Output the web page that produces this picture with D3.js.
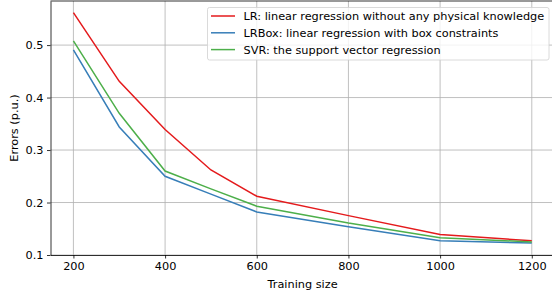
<!DOCTYPE html>
<html>
<head>
<meta charset="utf-8">
<script src="https://cdn.jsdelivr.net/npm/d3@7"></script>
<style>
	body { margin: 0; background: #fff; }
	text { font-family: "DejaVu Sans", sans-serif; fill: #000; }
</style>
</head>
<body>
<div id="graph"></div>
<script>
const sizes = [200, 300, 400, 500, 600, 800, 1000, 1200];
const lr = [0.562, 0.431, 0.339, 0.262, 0.212, 0.175, 0.139, 0.127];
const lrbox = [0.491, 0.344, 0.250, 0.216, 0.182, 0.154, 0.127, 0.123];
const svr = [0.508, 0.370, 0.260, 0.226, 0.193, 0.161, 0.133, 0.125];
const seriesNames = ['LR: linear regression without any physical knowledge',
	'LRBox: linear regression with box constraints',
	'SVR: the support vector regression'];
const xTicks = [200, 400, 600, 800, 1000, 1200];
const yTicks = [0.1, 0.2, 0.3, 0.4, 0.5];

const w = 552;
const h = 297;
const padding_left = 50.5;
const padding_top = 1;
const padding_bottom = 42;
const colors = ['#e41a1c', '#377eb8', '#4daf4a'];
const fs = '11.3px';

const svg = d3.select('#graph')
	.append('svg')
	.attr('width', w)
	.attr('height', h);

const xScale = d3.scaleLinear()
	.domain([150, 1250])
	.range([padding_left, 554.7]);
const yScale = d3.scaleLinear()
	.domain([0.1, 0.584])
	.range([h - padding_bottom, padding_top]);

// grid
svg.append('g')
	.selectAll('line')
	.data(xTicks)
	.enter()
	.append('line')
	.attr('x1', d => xScale(d)).attr('x2', d => xScale(d))
	.attr('y1', yScale(0.584)).attr('y2', yScale(0.1))
	.attr('stroke', '#b0b0b0').attr('stroke-width', 0.8);
svg.append('g')
	.selectAll('line')
	.data(yTicks)
	.enter()
	.append('line')
	.attr('x1', xScale(150)).attr('x2', xScale(1250))
	.attr('y1', d => yScale(d)).attr('y2', d => yScale(d))
	.attr('stroke', '#b0b0b0').attr('stroke-width', 0.8);

// lines
const line = d3.line()
	.x((d, i) => xScale(sizes[i]))
	.y(d => yScale(d));
[lr, lrbox, svr].forEach((s, k) => {
	svg.append('path')
		.attr('d', line(s))
		.attr('fill', 'none')
		.attr('stroke', colors[k])
		.attr('stroke-width', 1.5);
});

// axes
const xAxis = d3.axisBottom(xScale).tickValues(xTicks).tickSize(3.5).tickPadding(3.5).tickSizeOuter(0)
	.tickFormat(d3.format('d'));
const yAxis = d3.axisLeft(yScale).tickValues(yTicks).tickSize(3.5).tickPadding(3.5).tickSizeOuter(0)
	.tickFormat(d3.format('.1f'));
const gx = svg.append('g')
	.attr('transform', 'translate(0,' + (h - padding_bottom) + ')')
	.call(xAxis);
const gy = svg.append('g')
	.attr('transform', 'translate(' + padding_left + ',0)')
	.call(yAxis);
[gx, gy].forEach(g => {
	g.selectAll('text').style('font-size', fs).style('font-family', '"DejaVu Sans", sans-serif');
	g.select('.domain').attr('stroke-width', 0.8);
	g.selectAll('.tick line').attr('stroke-width', 0.8);
});

// top spine
svg.append('line')
	.attr('x1', padding_left).attr('x2', xScale(1250))
	.attr('y1', yScale(0.584)).attr('y2', yScale(0.584))
	.attr('stroke', '#000').attr('stroke-width', 0.8);

// labels
svg.append('text')
	.text('Training size')
	.attr('x', xScale(700))
	.attr('y', 288)
	.attr('text-anchor', 'middle')
	.style('font-size', fs);
svg.append('text')
	.text('Errors (p.u.)')
	.attr('transform', 'translate(18,' + yScale(0.342) + ') rotate(-90)')
	.attr('text-anchor', 'middle')
	.style('font-size', fs);

// legend
const legend = svg.append('g');
legend.append('rect')
	.attr('x', 207.5).attr('y', 7.5)
	.attr('width', 341.5).attr('height', 52.5)
	.attr('rx', 2)
	.attr('fill', 'rgba(255,255,255,0.8)')
	.attr('stroke', '#d0d0d0').attr('stroke-width', 0.8);
seriesNames.forEach((name, i) => {
	const y = 16 + i * 16.8;
	legend.append('line')
		.attr('x1', 211).attr('x2', 235)
		.attr('y1', y).attr('y2', y)
		.attr('stroke', colors[i]).attr('stroke-width', 1.5);
	legend.append('text')
		.text(name)
		.attr('x', 243.5)
		.attr('y', y + 4)
		.style('font-size', fs);
});
</script>
</body>
</html>
